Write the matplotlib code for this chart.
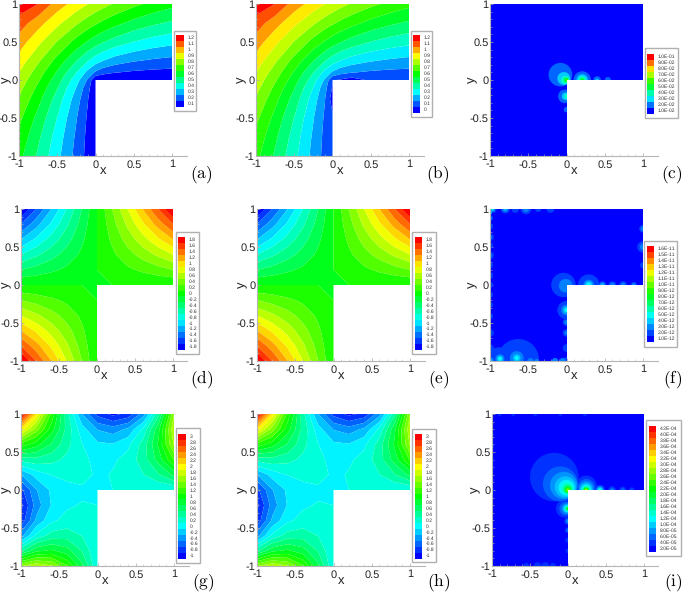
import numpy as np
import matplotlib
matplotlib.use("Agg")
import matplotlib.pyplot as plt
from matplotlib.patches import Circle, Polygon, Rectangle

plt.rcParams['font.family'] = ['Liberation Sans', 'DejaVu Sans']
plt.rcParams['mathtext.fontset'] = 'cm'
plt.rcParams['text.hinting'] = 'no_hinting'
plt.rcParams['text.hinting_factor'] = 1
W, H = 685, 592
_ = np.nan

DOMAIN_X = [-1, 1, 1, 0, 0, -1]
DOMAIN_Y = [1, 1, 0, 0, -1, -1]

# ---------- panel (a), (b) field values
X1 = [-1, -.75, -.5, -.25, -.1, 0, .1, .25, .5, .75, 1]
Y1 = [1, .75, .5, .25, .1, 0, -.1, -.25, -.5, -.75, -1]
FIELD_A = [
 [1.26, 1.20, 1.052, .955, .900, .866, .834, .789, .725, .672, .63],
 [1.155, 1.04, .925, .815, .753, .715, .679, .633, .568, .52, .483],
 [1.052, .925, .794, .663, .59, .546, .506, .457, .397, .356, .328],
 [.955, .815, .663, .5, .402, .344, .297, .25, .206, .182, .166],
 [.90, .753, .59, .402, .271, .186, .136, .105, .084, .073, .067],
 [.866, .715, .546, .344, .186, 0, 0, 0, 0, 0, 0],
 [.834, .679, .506, .297, .136, 0, _, _, _, _, _],
 [.789, .633, .457, .25, .105, 0, _, _, _, _, _],
 [.725, .568, .397, .206, .084, 0, _, _, _, _, _],
 [.672, .52, .356, .182, .073, 0, _, _, _, _, _],
 [.63, .483, .328, .166, .067, 0, _, _, _, _, _],
]
FIELD_B = [
 [1.26, 1.20, 1.052, .955, .900, .866, .834, .789, .725, .672, .63],
 [1.155, 1.04, .925, .815, .753, .715, .679, .633, .568, .52, .483],
 [1.052, .925, .794, .663, .59, .546, .506, .457, .397, .356, .328],
 [.955, .815, .663, .5, .402, .344, .297, .25, .206, .182, .166],
 [.90, .753, .59, .402, .271, .186, .136, .105, .084, .073, .067],
 [.866, .715, .546, .344, .186, .01, -.01, -.05, .02, .01, .01],
 [.834, .679, .506, .297, .136, -.01, _, _, _, _, _],
 [.789, .633, .457, .25, .105, -.05, _, _, _, _, _],
 [.725, .568, .397, .206, .084, .02, _, _, _, _, _],
 [.672, .52, .356, .182, .073, .01, _, _, _, _, _],
 [.63, .483, .328, .166, .067, .01, _, _, _, _, _],
]

# ---------- panel (d), (e), (g), (h) field values
X2 = [-1, -.8, -.6, -.4, -.2, 0, .2, .4, .6, .8, 1]
Y2 = [1, .8, .6, .4, .2, 0, -.2, -.4, -.6, -.8, -1]
FIELD_D = [
 [-2, -1.6, -1.2, -.8, -.4, 0, .4, .8, 1.2, 1.6, 2],
 [-1.6, -1.28, -.96, -.64, -.32, 0, .32, .64, .96, 1.28, 1.6],
 [-1.2, -.96, -.72, -.48, -.24, 0, .24, .48, .72, .96, 1.2],
 [-.8, -.64, -.48, -.32, -.16, 0, .16, .32, .48, .64, .8],
 [-.4, -.32, -.24, -.16, -.08, 0, .08, .16, .24, .32, .4],
 [0, 0, 0, 0, 0, 0, 0, 0, 0, 0, 0],
 [.4, .32, .24, .16, .08, 0, _, _, _, _, _],
 [.8, .64, .48, .32, .16, 0, _, _, _, _, _],
 [1.2, .96, .72, .48, .24, 0, _, _, _, _, _],
 [1.6, 1.28, .96, .64, .32, 0, _, _, _, _, _],
 [2, 1.6, 1.2, .8, .4, 0, _, _, _, _, _],
]
FIELD_G = [
 [3.175, 2.128, 1.143, .281, -.405, -.866, -1.058, -.941, -.483, .352, 1.587],
 [2.128, 1.509, .890, .330, -.120, -.412, -.503, -.359, .051, .755, 1.775],
 [1.143, .890, .578, .266, .005, -.158, -.185, -.045, .289, .840, 1.626],
 [.281, .330, .266, .150, .033, -.041, -.036, .075, .311, .689, 1.223],
 [-.405, -.120, .005, .033, .11, -.053, .02, .068, .191, .383, .653],
 [-.866, -.412, -.158, -.041, -.053, 0, 0, 0, 0, 0, 0],
 [-1.058, -.503, -.185, -.036, .02, 0, _, _, _, _, _],
 [-.941, -.359, -.045, .075, .068, 0, _, _, _, _, _],
 [-.483, .051, .289, .311, .191, 0, _, _, _, _, _],
 [.352, .755, .840, .689, .383, 0, _, _, _, _, _],
 [1.587, 1.775, 1.626, 1.223, .653, 0, _, _, _, _, _],
]

# ---------- contour levels and legend labels
LEV_A = [.1, .2, .3, .4, .5, .6, .7, .8, .9, 1, 1.1, 1.2]
LEV_B = [0, .1, .2, .3, .4, .5, .6, .7, .8, .9, 1, 1.1, 1.2]
LAB_A = ['1.2', '1.1', '1', '0.9', '0.8', '0.7', '0.6', '0.5', '0.4', '0.3', '0.2', '0.1']
LAB_B = LAB_A + ['0']
LEV_D = [-1.8, -1.6, -1.4, -1.2, -1, -.8, -.6, -.4, -.2, 0, .2, .4, .6, .8, 1, 1.2, 1.4, 1.6, 1.8]
LAB_D = ['1.8', '1.6', '1.4', '1.2', '1', '0.8', '0.6', '0.4', '0.2', '0', '-0.2', '-0.4', '-0.6',
         '-0.8', '-1', '-1.2', '-1.4', '-1.6', '-1.8']
LEV_G = [-1, -.8, -.6, -.4, -.2, 0, .2, .4, .6, .8, 1, 1.2, 1.4, 1.6, 1.8, 2, 2.2, 2.4, 2.6, 2.8, 3]
LAB_G = ['3', '2.8', '2.6', '2.4', '2.2', '2', '1.8', '1.6', '1.4', '1.2', '1', '0.8', '0.6', '0.4',
         '0.2', '0', '-0.2', '-0.4', '-0.6', '-0.8', '-1']
LAB_C = ['1.0E-01', '9.0E-02', '8.0E-02', '7.0E-02', '6.0E-02', '5.0E-02', '4.0E-02', '3.0E-02',
         '2.0E-02', '1.0E-02']
LAB_F = ['1.6E-11', '1.5E-11', '1.4E-11', '1.3E-11', '1.2E-11', '1.1E-11', '1.0E-11', '9.0E-12',
         '8.0E-12', '7.0E-12', '6.0E-12', '5.0E-12', '4.0E-12', '3.0E-12', '2.0E-12', '1.0E-12']
LAB_I = ['4.2E-04', '4.0E-04', '3.8E-04', '3.6E-04', '3.4E-04', '3.2E-04', '3.0E-04', '2.8E-04',
         '2.6E-04', '2.4E-04', '2.2E-04', '2.0E-04', '1.8E-04', '1.6E-04', '1.4E-04', '1.2E-04',
         '1.0E-04', '8.0E-05', '6.0E-05', '4.0E-05', '2.0E-05']

# ---------- error panels: contour rings
C_X = [-.08, -.035, -.015, -.005, 0, 0,  -.02, -.01, 0,  .205, .205, .205, .205, .205,  .4, .4,  .54, 0]
C_Y = [.07, .02, 0, 0, 0, 0,  -.215, -.215, -.215,  0, 0, 0, 0, 0,  0, 0,  0, -.39]
C_R = [.155, .085, .055, .035, .02, .01,  .09, .05, .03,  .115, .075, .05, .03, .015,  .05, .02,  .04, .035]
C_B = [1, 2, 3, 4, 5, 6,  1, 2, 3,  1, 2, 3, 4, 5,  1, 2,  1, 1]

F_X = [-.04, -.01,  0, 0, 0, 0,  0, 0, 0, 0, 0, 0,
       .29, .29, .29, .29,  .47, .47, .47,  .6, .6,  .74, .74,  .88, .88,
       1, 1, 1, 1, 1,
       -.96, -.8, -.8, -.8, -.67, -.53, -.53, -.37, -.21,
       -1, -1, -1, -1, -1, -1, -1, -1, -1, -1, -1, -1, -1, -1, -1, -1, -1,
       -.63, -.88, -.65, -.65, -.65, -.87, -.87, -.87, -1, -1, -.47, -.39, -.15, -.05, -.97, -.97, -.97]
F_Y = [0, -.01,  -.33, -.33, -.33, -.33,  -.49, -.49, -.63, -.63, -.83, -.99,
       0, 0, 0, 0,  0, 0, 0,  0, 0,  0, 0,  0, 0,
       .26, .5, .5, .74, .74,
       1, 1, 1, 1, 1, 1, 1, 1, 1,
       .88, .88, .77, .63, .63, .52, .39, .39, .26, .13, 0, -.13, -.26, -.41, -.63, -.83, .95,
       -.98, -1, -.96, -.96, -.96, -.97, -.97, -.97, -1, -1, -1, -1, -1, -1, 1, 1, 1]
F_R = [.16, .09,  .12, .07, .045, .025,  .05, .03, .05, .025, .05, .04,
       .14, .07, .05, .03,  .05, .035, .02,  .05, .03,  .05, .03,  .04, .025,
       .04, .075, .04, .05, .03,
       .05, .06, .04, .02, .05, .07, .04, .04, .05,
       .04, .025, .04, .05, .025, .04, .05, .025, .04, .04, .04, .04, .04, .04, .05, .05, .025,
       .27, .18, .09, .05, .025, .06, .04, .025, .05, .03, .04, .03, .04, .04, .04, .025, .012]
F_B = [1, 2,  1, 2, 3, 4,  1, 2, 1, 2, 1, 1,
       1, 2, 3, 4,  1, 2, 3,  1, 2,  1, 2,  1, 2,
       1, 1, 2, 1, 2,
       1, 1, 2, 3, 1, 1, 2, 1, 1,
       1, 2, 1, 1, 2, 1, 1, 2, 1, 1, 1, 1, 1, 1, 1, 1, 3,
       1, 1, 2, 3, 4, 2, 3, 4, 2, 3, 2, 2, 2, 2, 2, 3, 5]

I_X = [-.18, -.10, -.057, -.035, -.02, -.01, -.006, -.004, -.003, -.002, -.001, 0, 0, 0,
       -.04, -.025, -.015, -.01, -.008, -.006, -.004, -.003, -.002, -.001,
       .24, .24, .24, .24, .24, .24, .24, .24, .24, .24, .24, .24, .24, .24, .24, .24,
       .42, .42, .42, .42, .42, .42,  .58, .58, .58,  .72, .72,  .84, .84,
       0, 0, 0, 0, 0, 0, 0,
       -1, -1, -1, -1, -1, -1,  -.9, -.72, -.43, -.1, .22,
       -.55, -.4, -.3, -.2]
I_Y = [.17, .08, .06, .04, .03, .02, .015, .01, .005, .003, .002, 0, 0, 0,
       -.245, -.245, -.245, -.245, -.245, -.245, -.245, -.245, -.245, -.245,
       .05, .03, .02, .01, .005, 0, 0, 0, 0, 0, 0, 0, 0, 0, 0, 0,
       0, 0, 0, 0, 0, 0,  0, 0, 0,  0, 0,  0, 0,
       -.41, -.41, -.41, -.53, -.53, -.66, -.8,
       .73, .57, .39, .3, .13, 0,  1, 1, 1, 1, 1,
       -1, -1, -1, -1]
I_R = [.32, .23, .18, .14, .105, .085, .065, .052, .043, .035, .028, .022, .016, .01,
       .12, .09, .07, .055, .045, .035, .03, .025, .02, .015,
       .14, .115, .095, .08, .065, .055, .048, .04, .034, .028, .023, .018, .014, .011, .008, .005,
       .07, .055, .045, .035, .025, .018,  .05, .03, .015,  .045, .025,  .035, .012,
       .05, .035, .02, .04, .025, .035, .03,
       .025, .025, .025, .025, .025, .025,  .025, .025, .025, .025, .025,
       .04, .05, .05, .04]
I_B = [1, 2, 3, 4, 5, 6, 7, 8, 9, 10, 11, 12, 13, 14,
       1, 2, 3, 4, 5, 6, 7, 8, 9, 10,
       1, 2, 3, 4, 5, 6, 7, 8, 9, 10, 11, 12, 13, 14, 15, 17,
       1, 2, 3, 4, 5, 6,  1, 2, 3,  1, 2,  1, 2,
       1, 2, 3, 1, 2, 1, 1,
       1, 1, 1, 1, 1, 1,  1, 1, 1, 1, 1,
       1, 1, 1, 1]

# ---------- drawing helpers
def rainbow(n):
    stops = np.array([[0, 0, 255], [0, 255, 255], [0, 255, 0], [255, 255, 0], [255, 0, 0]]) / 255
    t = np.linspace(0, 4, n)
    out = []
    for v in t:
        i = min(int(v), 3)
        f = v - i
        out.append(tuple(stops[i] * (1 - f) + stops[i + 1] * f))
    return out

def pix_axes(x0, y0, x1, y1):
    return plt.gcf().add_axes([x0 / W, 1 - y1 / H, (x1 - x0) / W, (y1 - y0) / H])

def panel(x0, y0, x1, y1, tag, ylab_x=-1.2, tag_y=-1.24):
    span = x1 - x0
    ax = pix_axes(x0, y0, x0 + span * 2.19 / 2, y1)
    ax.set_xlim(-1, 1.19)
    ax.set_ylim(-1, 1)
    for s in ('top', 'right'):
        ax.spines[s].set_visible(False)
    for s in ('left', 'bottom'):
        ax.spines[s].set_color('#b5b5b5')
        ax.spines[s].set_linewidth(.8)
    ax.patch.set_alpha(0)
    ax.set_xticks([-1, -.5, 0, .5, 1], ['-1', '-0.5', '0', '0.5', '1'])
    ax.set_yticks([-1, -.5, 0, .5, 1], ['-1', '-0.5', '0', '0.5', '1'])
    ax.set_xticks(np.arange(-10, 11) / 10, minor=True)
    ax.set_yticks(np.arange(-10, 11) / 10, minor=True)
    ax.tick_params(which='major', direction='in', length=2.5, width=.5, color='#aaaaaa',
                   labelsize=7.6, labelcolor='#222222')
    ax.tick_params(axis='x', which='major', pad=2.5)
    ax.tick_params(axis='y', which='major', pad=1)
    ax.tick_params(which='minor', direction='in', length=1.2, width=.4, color='#bbbbbb')
    ax.text(.1, -1.19, 'x', ha='center', va='center', fontsize=9, color='#222222')
    ax.text(ylab_x, .0, 'y', ha='center', va='center', rotation=90, fontsize=9, color='#222222')
    ax.text(1.38, tag_y, r'$\mathrm{' + tag + '}$', ha='center', va='center', fontsize=12.5,
            clip_on=False)
    return ax

def field(ax, xs, ys, z, levels):
    z = np.array(z, float)
    colors = rainbow(len(levels) + 1)
    ax.contourf(xs, ys[::-1], z[::-1], levels=levels, colors=colors, extend='both',
                corner_mask=False, antialiased=True, zorder=1)

def rings(ax, xs, ys, rs, bands, n_levels):
    colors = rainbow(n_levels + 1)
    dom = Polygon(np.column_stack([DOMAIN_X, DOMAIN_Y]), closed=True, fc=colors[0], ec='none', zorder=1)
    ax.add_patch(dom)
    order = sorted(range(len(xs)), key=lambda k: (bands[k], -rs[k]))
    for k in order:
        c = Circle((xs[k], ys[k]), rs[k], fc=colors[bands[k]], ec='none', zorder=2)
        ax.add_patch(c)
        c.set_clip_path(dom)

def legend(bx0, by0, bx1, by1, cx0, cy0, cx1, cy1, labels, fs=3.8):
    fig = plt.gcf()
    fig.add_artist(Rectangle((bx0 / W, 1 - by1 / H), (bx1 - bx0) / W, (by1 - by0) / H,
                             transform=fig.transFigure, fc='white', ec='#b0b0b0', lw=1))
    ax = pix_axes(cx0, cy0, cx1, cy1)
    ax.set_zorder(5)
    n = len(labels)
    cols = rainbow(n)
    pos = np.arange(n)
    ax.barh(pos, np.ones(n), height=1.0, color=cols, linewidth=0)
    ax.set_xlim(0, 1)
    ax.set_ylim(-.5, n - .5)
    ax.axis('off')
    for p, lab in zip(pos, labels[::-1]):
        ax.text(1.0 + 3.5 / (cx1 - cx0), p, lab, fontsize=fs, va='center', ha='left',
                color='#333333', clip_on=False)

fig = plt.figure(figsize=(W / 100, H / 100), dpi=100)

# row 1
ax = panel(19, 4, 172, 156, '(a)', -1.17);  field(ax, X1, Y1, FIELD_A, LEV_A)
legend(174, 31, 196, 111, 176, 35, 184, 107, LAB_A)
ax = panel(256, 4, 409, 156, '(b)'); field(ax, X1, Y1, FIELD_B, LEV_B)
legend(411, 31, 432, 117, 413, 35, 420, 113, LAB_B)
ax = panel(490, 4, 643, 156, '(c)', -1.23); rings(ax, C_X, C_Y, C_R, C_B, 10)
legend(645, 48, 678, 118, 647, 54, 654, 114, LAB_C, 3.3)

# row 2
ax = panel(21, 209, 173, 361, '(d)', -1.2); field(ax, X2, Y2, FIELD_D, LEV_D)
legend(176, 232, 199, 354, 178, 237, 185, 350, LAB_D)
ax = panel(257, 209, 410, 361, '(e)'); field(ax, X2, Y2, FIELD_D, LEV_D)
legend(412, 232, 436, 354, 415, 237, 422, 350, LAB_D)
ax = panel(490, 209, 643, 361, '(f)', -1.23); rings(ax, F_X, F_Y, F_R, F_B, 16)
legend(644, 241, 677, 347, 647, 246, 654, 342, LAB_F, 3.3)

# row 3
ax = panel(21, 414, 174, 566, '(g)', -1.2, -1.21); field(ax, X2, Y2, FIELD_G, LEV_G)
legend(176, 428, 200, 563, 178, 434, 186, 559, LAB_G)
ax = panel(257, 414, 410, 566, '(h)', -1.2, -1.21); field(ax, X2, Y2, FIELD_G, LEV_G)
legend(412, 429, 436, 562, 415, 434, 422, 559, LAB_G)
ax = panel(492, 414, 644, 566, '(i)', -1.23, -1.21); rings(ax, I_X, I_Y, I_R, I_B, 21)
legend(646, 420, 681, 556, 649, 426, 656, 552, LAB_I, 3.3)

fig.savefig('out.png', dpi=100)
